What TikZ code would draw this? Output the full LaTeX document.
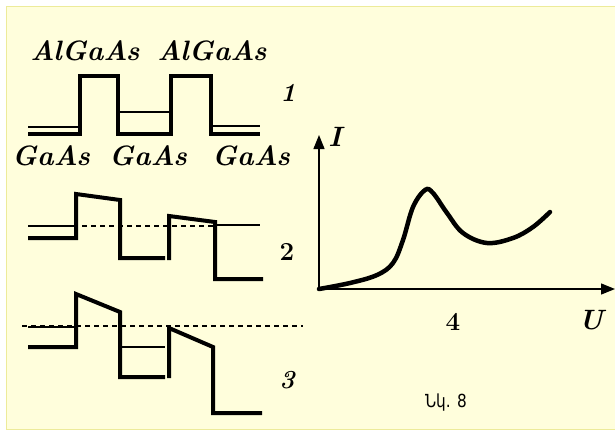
\documentclass[tikz,border=0pt]{standalone}
\usepackage{fontspec}
\newfontfamily\armfont{DejaVu Sans}
\usetikzlibrary{arrows.meta}
\definecolor{bgyellow}{HTML}{FFFEDC}
\definecolor{edgeyellow}{HTML}{EDEB9A}
\begin{document}
\begin{tikzpicture}[x=1pt,y=-1pt,
  thick line/.style={line width=4pt,line join=miter},
  thin line/.style={line width=2pt},
  dash line/.style={line width=1.3pt,dash pattern=on 5pt off 4pt},
  axis/.style={line width=1.3pt,-{Triangle[length=14pt,width=11pt]}},
  lbl/.style={font=\fontsize{28}{32}\selectfont\bfseries\itshape,anchor=base,inner sep=0pt},
  num/.style={font=\fontsize{26}{30}\selectfont\bfseries,inner sep=0pt},
  numit/.style={font=\fontsize{26}{30}\selectfont\bfseries\itshape,inner sep=0pt}]
\useasboundingbox (0,0) rectangle (615,431);
\fill[white] (0,0) rectangle (615,431);
\draw[fill=bgyellow,draw=edgeyellow,line width=1.5pt] (6.5,6.5) rectangle (625,429.5);

% diagram 1
\node[lbl] (al1) at (85,60) {AlGaAs};
\node[lbl] (al2) at (212,60) {AlGaAs};
\node[lbl] (ga1) at (51,165) {GaAs};
\node[lbl] (ga2) at (148,165) {GaAs};
\node[lbl] (ga3) at (251,165) {GaAs};
\draw[thick line] (28,134) -- (80,134) -- (80,76) -- (118,76) -- (118,134) -- (171,134) -- (171,76) -- (211,76) -- (211,134) -- (260,134);
\draw[thin line] (28,127) -- (80,127);
\draw[thin line] (118,112) -- (171,112);
\draw[thin line] (211,126) -- (260,126);
\node[numit] (n1) at (288,93) {1};

% diagram 2
\draw[dash line] (28,226) -- (215,226);
\draw[thin line] (28,226) -- (76,226);
\draw[thin line] (215,225) -- (260,225);
\draw[thick line] (28,238) -- (76,238) -- (76,194) -- (120,200) -- (120,258) -- (165,258);
\draw[thick line] (169,260) -- (169,216) -- (215,222) -- (215,279) -- (263,279);
\node[num] (n2) at (287,252) {2};

% diagram 3
\draw[dash line] (22,326) -- (303,326);
\draw[thin line] (28,327) -- (76,327);
\draw[thin line] (120,347) -- (165,347);
\draw[thick line] (28,347) -- (76,347) -- (76,294) -- (120,312) -- (120,377) -- (165,377);
\draw[thick line] (169,378) -- (169,328) -- (213,347) -- (213,413) -- (262,413);
\node[numit] (n3) at (287,380) {3};

% graph 4
\coordinate (O) at (319,289);
\coordinate (Yt) at (319,135);
\coordinate (Xt) at (615,289);
\draw[axis] (O) -- (Yt);
\draw[axis] (O) -- (Xt);
\node[lbl,anchor=center] (I) at (335,137) {I};
\node[lbl,anchor=center] (U) at (591,320) {U};
\node[num] (n4) at (453,322) {4};
\draw[line width=4.5pt,line cap=round] plot[smooth,tension=0.6] coordinates {(319,289) (350,283) (377,275) (393,263) (403,240) (413,207) (425,190) (433,193) (447,213) (463,233) (487,243) (513,238) (533,227) (550,212)};
\node[inner sep=0pt] (cap) at (446,403) {\scalebox{0.85}[1]{\armfont\fontsize{18}{22}\selectfont Նկ. 8}};
\end{tikzpicture}
\end{document}
